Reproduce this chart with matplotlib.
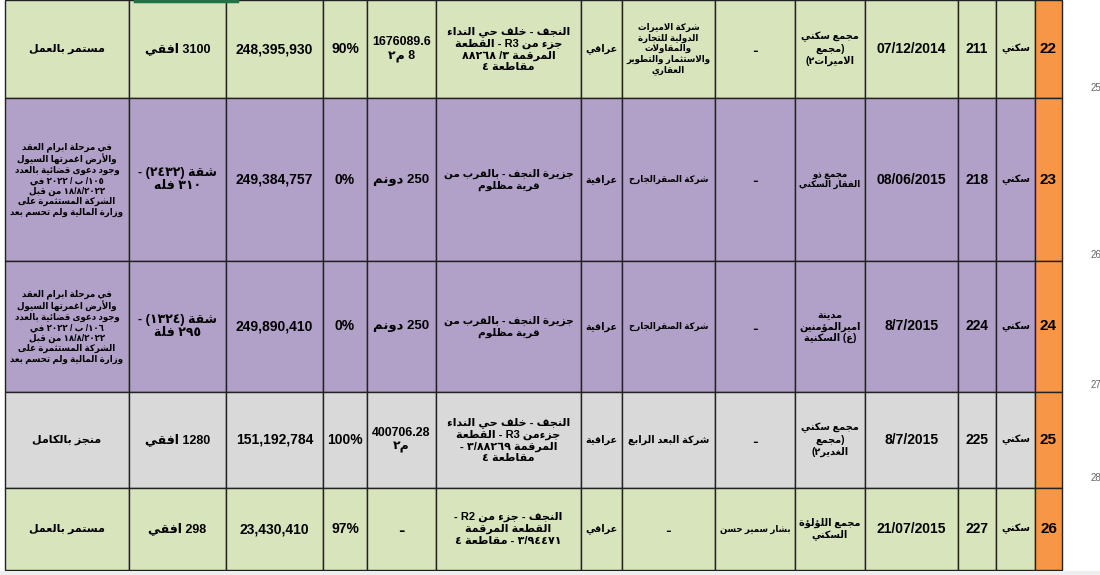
import matplotlib
matplotlib.use("Agg")
import matplotlib.pyplot as plt
from matplotlib.patches import Rectangle

# ---------------- minimal Arabic shaping + bidi ----------------
_F = {}
def _add(ch, base, n):
    _F[ch] = [chr(base + i) for i in range(n)]
for ch, b, n in [('ء',0xFE80,1),('آ',0xFE81,2),('أ',0xFE83,2),('ؤ',0xFE85,2),('إ',0xFE87,2),
                 ('ئ',0xFE89,4),('ا',0xFE8D,2),('ب',0xFE8F,4),('ة',0xFE93,2),('ت',0xFE95,4),
                 ('ث',0xFE99,4),('ج',0xFE9D,4),('ح',0xFEA1,4),('خ',0xFEA5,4),('د',0xFEA9,2),
                 ('ذ',0xFEAB,2),('ر',0xFEAD,2),('ز',0xFEAF,2),('س',0xFEB1,4),('ش',0xFEB5,4),
                 ('ص',0xFEB9,4),('ض',0xFEBD,4),('ط',0xFEC1,4),('ظ',0xFEC5,4),('ع',0xFEC9,4),
                 ('غ',0xFECD,4),('ف',0xFED1,4),('ق',0xFED5,4),('ك',0xFED9,4),('ل',0xFEDD,4),
                 ('م',0xFEE1,4),('ن',0xFEE5,4),('ه',0xFEE9,4),('و',0xFEED,2),('ى',0xFEEF,2),
                 ('ي',0xFEF1,4)]:
    _add(ch, b, n)
_LA = {'آ': (0xFEF5, 0xFEF6), 'أ': (0xFEF7, 0xFEF8), 'إ': (0xFEF9, 0xFEFA), 'ا': (0xFEFB, 0xFEFC)}

def _isar(c):
    return c in _F

def shape(s):
    out = []
    i = 0
    chars = list(s)
    n = len(chars)
    while i < n:
        c = chars[i]
        if not _isar(c):
            out.append(c); i += 1; continue
        prev = chars[i-1] if i > 0 else ''
        pj = _isar(prev) and len(_F[prev]) == 4
        if c == 'ل' and i + 1 < n and chars[i+1] in _LA:
            iso, fin = _LA[chars[i+1]]
            out.append(chr(fin if pj else iso)); i += 2; continue
        nxt = chars[i+1] if i + 1 < n else ''
        nj = _isar(nxt) and nxt != 'ء' and len(_F[c]) == 4
        f = _F[c]
        if len(f) == 1:
            out.append(f[0])
        elif len(f) == 2:
            out.append(f[1] if pj else f[0])
        else:
            if pj and nj: out.append(f[3])
            elif pj: out.append(f[1])
            elif nj: out.append(f[2])
            else: out.append(f[0])
        i += 1
    return ''.join(out)

_MIR = {'(': ')', ')': '('}
def _cls(c):
    o = ord(c)
    if 0x0600 <= o <= 0x06FF and not (0x0660 <= o <= 0x0669) or 0xFE70 <= o <= 0xFEFF:
        return 'R'
    if c.isalnum() or c in '.,%':
        return 'L'
    return 'N'

def bidi(line):
    s = shape(line)
    cls = [_cls(c) for c in s]
    n = len(s)
    for i in range(n):
        if cls[i] == 'N':
            l = next((cls[j] for j in range(i-1, -1, -1) if cls[j] != 'N'), 'R')
            r = next((cls[j] for j in range(i+1, n) if cls[j] != 'N'), 'R')
            cls[i] = 'L' if (l == 'L' and r == 'L') else 'R'
    runs = []
    for c, k in zip(s, cls):
        if runs and runs[-1][0] == k:
            runs[-1][1].append(c)
        else:
            runs.append([k, [c]])
    out = []
    for k, cs in reversed(runs):
        if k == 'R':
            out.append(''.join(_MIR.get(c, c) for c in reversed(cs)))
        else:
            out.append(''.join(cs))
    return ''.join(out)

def rtl(text):
    return '\n'.join(bidi(l) for l in text.split('\n'))

# ---------------- data ----------------
row_ids = ['22', '23', '24', '25', '26']
types = ['سكني'] * 5
numbers = ['211', '218', '224', '225', '227']
dates = ['07/12/2014', '08/06/2015', '8/7/2015', '8/7/2015', '21/07/2015']
projects = ['مجمع سكني\n(مجمع\nالاميرات٢)', 'مجمع ذو\nالفقار السكني',
            'مدينة\nاميرالمؤمنين\n(ع) السكنية', 'مجمع سكني\n(مجمع\nالغدير٢)',
            'مجمع اللؤلؤة\nالسكني']
persons = ['ـ', 'ـ', 'ـ', 'ـ', 'بشار سمير حسن']
companies = ['شركة الاميرات\nالدولية للتجارة\nوالمقاولات\nوالاستثمار والتطوير\nالعقاري',
             'شركة الصقرالجارح', 'شركة الصقرالجارح', 'شركة البعد الرابع', 'ـ']
nationality = ['عراقي', 'عراقية', 'عراقية', 'عراقية', 'عراقي']
locations = ['النجف - خلف حي النداء\nجزء من R3 - القطعة\nالمرقمة ٨٨٢٦٨ /٣\nمقاطعة ٤',
             'جزيرة النجف - بالقرب من\nقرية مظلوم',
             'جزيرة النجف - بالقرب من\nقرية مظلوم',
             'النجف - خلف حي النداء\nجزءمن R3 - القطعة\nالمرقمة ٣/٨٨٢٦٩ -\nمقاطعة ٤',
             'النجف - جزء من R2 -\nالقطعة المرقمة\n٣/٩٤٤٧١ - مقاطعة ٤']
areas = ['1676089.6\n8 م٢', '250 دونم', '250 دونم', '400706.28\nم٢', 'ـ']
progress = ['90%', '0%', '0%', '100%', '97%']
costs = ['248,395,930', '249,384,757', '249,890,410', '151,192,784', '23,430,410']
units = ['3100 افقي', 'شقة (٢٤٣٢) -\n٣١٠ فله', 'شقة (١٣٢٤) -\n٢٩٥ فلة', '1280 افقي', '298 افقي']
status = ['مستمر بالعمل',
          'في مرحلة ابرام العقد\nوالأرض اغمرتها السيول\nوجود دعوى قضائية بالعدد\n١٠٥/ ب / ٢٠٢٢ في\n١٨/٨/٢٠٢٢ من قبل\nالشركة المستثمرة على\nوزارة المالية ولم تحسم بعد',
          'في مرحلة ابرام العقد\nوالأرض اغمرتها السيول\nوجود دعوى قضائية بالعدد\n١٠٦/ ب / ٢٠٢٢ في\n١٨/٨/٢٠٢٢ من قبل\nالشركة المستثمرة على\nوزارة المالية ولم تحسم بعد',
          'منجز بالكامل', 'مستمر بالعمل']
row_colors = ['#D8E4BC', '#B1A0C7', '#B1A0C7', '#D9D9D9', '#D8E4BC']

# ---------------- layout ----------------
col_edges = [5, 129, 226, 323, 367, 436, 581, 622, 715, 795, 865, 958, 996, 1035, 1062]
row_edges = [0, 98, 261, 392, 488, 570]
columns = [status, units, costs, progress, areas, locations, nationality, companies,
           persons, projects, dates, numbers, types, row_ids]
col_fs = [8, 9, 10, 10, 9.5, 8, 8, 8, 8, 8, 10, 10, 8, 11]
big = {2, 3, 10, 11, 13}

fig = plt.figure(figsize=(11, 5.75), dpi=100)
ax = fig.add_axes([0, 0, 1, 1])
ax.set_xlim(0, 1100)
ax.set_ylim(575, 0)
ax.axis('off')
fam = ['Liberation Sans', 'DejaVu Sans']
renderer = fig.canvas.get_renderer()

for r in range(5):
    y0, y1 = row_edges[r], row_edges[r+1]
    for c in range(14):
        x0, x1 = col_edges[c], col_edges[c+1]
        fc = '#F79646' if c == 13 else row_colors[r]
        ax.add_patch(Rectangle((x0, y0), x1 - x0, y1 - y0, facecolor=fc,
                               edgecolor='#222222', lw=1.0))
        txt = columns[c][r]
        if c not in big:
            txt = rtl(txt)
        fs = col_fs[c]
        t = ax.text((x0+x1)/2, (y0+y1)/2, txt, ha='center', va='center',
                    fontsize=fs, fontweight='bold', family=fam, linespacing=1.2,
                    multialignment='center')
        avail_w = (x1 - x0) - 8
        avail_h = (y1 - y0) - 6
        for _ in range(12):
            bb = t.get_window_extent(renderer)
            if bb.width <= avail_w and bb.height <= avail_h:
                break
            fs *= 0.94
            t.set_fontsize(fs)

ax.plot([135, 237], [1, 1], color='#217346', lw=2.5)
ax.add_patch(Rectangle((0, 571), 1100, 4, facecolor='#EEEEEE', edgecolor='none'))
for y, t in [(88, '25'), (255, '26'), (385, '27'), (478, '28')]:
    ax.text(1091, y, t, fontsize=7, color='#666666', ha='left', va='center', family=fam)

fig.savefig('out.png', dpi=100)
